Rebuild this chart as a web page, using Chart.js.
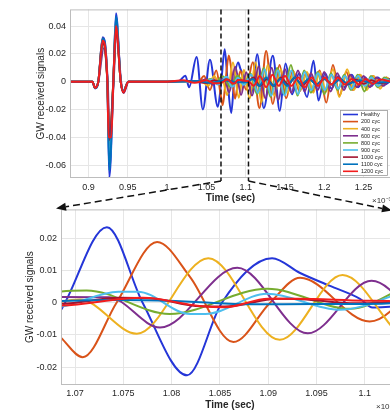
<!DOCTYPE html>
<html><head><meta charset="utf-8">
<script src="https://cdn.jsdelivr.net/npm/chart.js@4.4.1/dist/chart.umd.min.js"></script>
<style>
html,body{margin:0;padding:0;width:390px;height:411px;overflow:hidden;background:#fff;}
#wrap{position:relative;width:390px;height:411px;overflow:hidden;}
#top{position:absolute;left:0;top:0;width:400px;height:210px;}
#bot{position:absolute;left:0;top:200px;width:400px;height:213px;}
#ov{position:absolute;left:0;top:0;width:400px;height:411px;pointer-events:none;}
.exp{position:absolute;font:8px 'Liberation Sans',Arial,sans-serif;color:#333;white-space:nowrap;}
</style></head><body>
<div id="wrap">
<canvas id="top" width="400" height="210"></canvas>
<canvas id="bot" width="400" height="213"></canvas>
<div class="exp" style="left:372px;top:194px">×10⁻³</div>
<div class="exp" style="left:376px;top:400px">×10⁻³</div>
<canvas id="ov" width="400" height="411"></canvas>
</div>
<script>
// ---------- DATA ----------
const seriesNames = ['Healthy','200 cyc','400 cyc','600 cyc','800 cyc','900 cyc','1000 cyc','1100 cyc','1200 cyc'];
const seriesColors = ['#2536d8','#D95319','#EDB120','#7E2F8E','#77AC30','#4DBEEE','#A2142F','#0072BD','#f21d1d'];

const healthy = [[0.8765,0],[0.905,0],[0.9083,-0.0047],[0.9125,0],[0.918,0.032],[0.924,0],[0.9265,-0.0688],[0.9316,0],[0.935,0.0493],[0.941,0],[0.9443,-0.0066],[0.9507,0],[1.0,0],[1.015,0.0005],[1.0233,0.0043],[1.028,-0.004],[1.0375,0.0178],[1.0455,-0.020],[1.0545,0.0157],[1.0645,-0.018],[1.0686,-0.002],[1.0733,0.0234],[1.077,0],[1.0816,-0.0225],[1.0852,0],[1.0904,0.0138],[1.0933,0.0092],[1.0964,0.0052],[1.0995,0.0012],[1.1008,-0.0015],[1.1035,-0.0012],[1.1075,-0.008],[1.1146,0.0198],[1.123,-0.019],[1.1345,0.0186],[1.1434,-0.021],[1.1506,0.013],[1.159,-0.009],[1.168,0.006],[1.178,-0.011],[1.1863,0.015],[1.1926,-0.0136],[1.201,0.006],[1.209,-0.005],[1.218,0.004],[1.226,-0.004],[1.235,0.005],[1.243,-0.004],[1.252,0.003],[1.26,-0.003],[1.268,0.003],[1.277,-0.002],[1.285,0.001]];
const cyc200 = [[0.8765,0],[0.905,0],[0.9083,-0.0045],[0.9125,0],[0.918,0.031],[0.924,0],[0.9265,-0.047],[0.9316,0],[0.935,0.043],[0.941,0],[0.9443,-0.007],[0.9507,0],[1.0,0],[1.04,0],[1.047,0.004],[1.0545,-0.006],[1.0625,0.008],[1.0686,-0.011],[1.0708,-0.0169],[1.0743,0],[1.0785,0.0188],[1.0819,0.008],[1.0864,-0.0122],[1.0902,0],[1.0933,0.0077],[1.1005,-0.0058],[1.109,0.014],[1.1175,-0.019],[1.126,0.022],[1.1345,-0.016],[1.143,0.012],[1.1515,-0.012],[1.16,0.008],[1.1685,-0.007],[1.177,0.006],[1.1855,-0.007],[1.194,0.008],[1.2025,-0.015],[1.211,0.012],[1.2195,-0.010],[1.228,0.007],[1.2365,-0.006],[1.245,0.005],[1.2535,-0.004],[1.262,0.004],[1.2705,-0.003],[1.279,0.003],[1.285,0]];
const cyc400 = [[0.8765,0],[0.905,0],[0.9083,-0.0045],[0.9125,0],[0.918,0.030],[0.924,0],[0.9265,-0.053],[0.9316,0],[0.935,0.044],[0.941,0],[0.9443,-0.007],[0.9507,0],[1.0,0],[1.045,0],[1.052,-0.003],[1.06,0.004],[1.0655,-0.001],[1.0705,0.001],[1.0764,-0.0096],[1.0838,0.0138],[1.0912,-0.0115],[1.0977,0.0086],[1.105,-0.012],[1.1125,0.014],[1.12,-0.015],[1.128,0.012],[1.1365,-0.010],[1.1445,0.009],[1.153,-0.008],[1.161,0.007],[1.1695,-0.006],[1.178,0.007],[1.186,-0.008],[1.194,0.007],[1.2025,-0.007],[1.211,0.009],[1.219,-0.011],[1.229,0.009],[1.2375,-0.006],[1.246,0.005],[1.254,-0.006],[1.2625,0.004],[1.271,-0.005],[1.279,0.003],[1.285,0]];
const cyc600 = [[0.8765,0],[0.905,0],[0.9083,-0.004],[0.9125,0],[0.9195,0.024],[0.9245,0],[0.927,-0.044],[0.932,0],[0.9355,0.038],[0.9415,0],[0.9448,-0.008],[0.951,0],[1.0,0],[1.04,0],[1.05,0.002],[1.058,-0.002],[1.0686,0.0018],[1.0735,0.0017],[1.0788,-0.0077],[1.0868,0.0108],[1.0941,-0.0095],[1.1007,0.0068],[1.108,-0.010],[1.1165,0.011],[1.125,-0.012],[1.133,0.010],[1.1415,-0.013],[1.15,0.009],[1.158,-0.008],[1.1665,0.008],[1.175,-0.007],[1.183,0.006],[1.1915,-0.006],[1.2,0.007],[1.208,-0.007],[1.2165,0.006],[1.225,-0.006],[1.233,0.005],[1.2415,-0.004],[1.25,0.004],[1.258,-0.004],[1.2665,0.003],[1.275,-0.003],[1.283,0.002],[1.285,0.001]];
const cyc800 = [[0.8765,0],[0.905,0],[0.9083,-0.0045],[0.9125,0],[0.918,0.028],[0.924,0],[0.9265,-0.046],[0.9316,0],[0.935,0.040],[0.941,0],[0.9443,-0.007],[0.9507,0],[1.0,0],[1.045,0],[1.055,0.002],[1.062,-0.001],[1.0686,0.0035],[1.0712,0.0038],[1.0798,-0.0035],[1.0899,0.0043],[1.0985,-0.0019],[1.106,0.006],[1.1145,-0.009],[1.123,0.010],[1.1315,-0.011],[1.14,0.010],[1.1485,-0.009],[1.1575,0.012],[1.166,-0.010],[1.1745,0.008],[1.183,-0.008],[1.1915,0.007],[1.2,-0.009],[1.2085,0.006],[1.217,-0.006],[1.2255,0.005],[1.234,-0.006],[1.2425,0.005],[1.251,-0.007],[1.2595,0.004],[1.268,-0.004],[1.2765,0.003],[1.285,0]];
const cyc900 = [[0.8765,0],[0.905,0],[0.9083,-0.0045],[0.9125,0],[0.918,0.029],[0.924,0],[0.9265,-0.058],[0.9316,0],[0.935,0.045],[0.941,0],[0.9443,-0.007],[0.9507,0],[1.0,0],[1.045,0],[1.058,0.0015],[1.064,-0.002],[1.0686,-0.0012],[1.0745,0.0034],[1.0765,0.0034],[1.0819,-0.0035],[1.0835,-0.0035],[1.0899,0.0028],[1.0974,-0.0022],[1.107,0.005],[1.1155,-0.008],[1.124,0.009],[1.1325,-0.010],[1.141,0.008],[1.1495,-0.010],[1.158,0.008],[1.1665,-0.009],[1.175,0.007],[1.1835,-0.006],[1.192,0.006],[1.2005,-0.006],[1.209,0.005],[1.2175,-0.005],[1.226,0.004],[1.2345,-0.005],[1.243,0.004],[1.2515,-0.003],[1.26,0.003],[1.2685,-0.003],[1.277,0.002],[1.285,0]];
const cyc1000 = [[0.8765,0],[0.905,0],[0.9083,-0.0045],[0.9125,0],[0.918,0.028],[0.924,0],[0.9265,-0.042],[0.9316,0],[0.935,0.039],[0.941,0],[0.9443,-0.008],[0.9507,0],[1.0,0],[1.03,0.0005],[1.05,-0.001],[1.06,0.001],[1.0686,-0.0003],[1.0745,0.0015],[1.078,0.0013],[1.0825,-0.001],[1.0855,-0.0012],[1.091,0.0012],[1.0935,0.0011],[1.099,-0.0002],[1.1035,0.0003],[1.11,0.003],[1.118,-0.003],[1.127,0.002],[1.136,-0.003],[1.145,0.003],[1.154,-0.002],[1.163,0.003],[1.172,-0.003],[1.181,0.002],[1.19,-0.002],[1.2,0.002],[1.21,-0.002],[1.22,0.002],[1.23,-0.002],[1.24,0.0015],[1.25,-0.0015],[1.26,0.001],[1.27,-0.001],[1.285,0]];
const cyc1100 = [[0.8765,0],[0.905,0],[0.9083,-0.0047],[0.9125,0],[0.918,0.031],[0.924,0],[0.9265,-0.064],[0.9316,0],[0.935,0.047],[0.941,0],[0.9443,-0.0068],[0.9507,0],[1.0,0],[1.04,0.0005],[1.055,-0.001],[1.0686,0.0005],[1.075,0.0008],[1.082,0.0003],[1.088,-0.0005],[1.095,-0.0004],[1.1,-0.0004],[1.1035,0],[1.109,0.002],[1.117,-0.003],[1.126,0.003],[1.135,-0.003],[1.144,0.002],[1.153,-0.003],[1.162,0.003],[1.171,-0.002],[1.18,0.002],[1.19,-0.002],[1.2,0.002],[1.21,-0.002],[1.22,0.0015],[1.23,-0.0015],[1.245,0.001],[1.26,-0.001],[1.285,0]];
const cyc1200 = [[0.8765,0],[0.905,0],[0.9083,-0.0045],[0.9125,0],[0.918,0.0295],[0.924,0],[0.9255,-0.040],[0.929,-0.040],[0.9316,0],[0.935,0.040],[0.941,0],[0.9443,-0.0075],[0.9507,0],[1.0,0],[1.02,0.001],[1.035,-0.0008],[1.05,0.001],[1.06,-0.0012],[1.0686,-0.0009],[1.077,0.0015],[1.0829,-0.001],[1.0855,-0.0014],[1.09,0.0012],[1.093,0.0012],[1.1,0.0006],[1.1035,0.0004],[1.11,-0.003],[1.118,0.004],[1.126,-0.004],[1.134,0.005],[1.142,-0.003],[1.15,0.004],[1.158,-0.003],[1.167,0.003],[1.175,-0.004],[1.184,0.003],[1.192,-0.003],[1.2,0.003],[1.209,-0.002],[1.217,0.003],[1.226,-0.002],[1.235,0.002],[1.244,-0.002],[1.253,0.002],[1.262,-0.0015],[1.271,0.0015],[1.285,0]];
const seriesData = [healthy,cyc200,cyc400,cyc600,cyc800,cyc900,cyc1000,cyc1100,cyc1200];

// axes
const topXMin = 0.87646, topXMax = 1.28485;
const topXTicks = [0.9,0.95,1,1.05,1.1,1.15,1.2,1.25];
const topXLabels = ['0.9','0.95','1','1.05','1.1','1.15','1.2','1.25'];
const topYMin = -0.0693, topYMax = 0.052;
const topYTicks = [-0.06,-0.04,-0.02,0,0.02,0.04];
const topYLabels = ['-0.06','-0.04','-0.02','0','0.02','0.04'];

const botXMin = 1.06855, botXMax = 1.10354;   // zoom window (also dashed markers)
const botXTicks = [1.07,1.075,1.08,1.085,1.09,1.095,1.1];
const botXLabels = ['1.07','1.075','1.08','1.085','1.09','1.095','1.1'];
const botYMin = -0.0255, botYMax = 0.0289;
const botYTicks = [-0.02,-0.01,0,0.01,0.02];
const botYLabels = ['-0.02','-0.01','0','0.01','0.02'];

// ---------- CHARTS ----------
const FAM = "'Liberation Sans', Arial, sans-serif";
const GRID = '#e6e6e6', TXT = '#262626';

function makeDatasets(bw){
  return seriesData.map((arr,i)=>({
    label: seriesNames[i],
    data: arr.map(p=>({x:p[0], y:p[1]})),
    borderColor: seriesColors[i], backgroundColor: seriesColors[i],
    borderWidth: bw, pointRadius: 0, fill: false,
    cubicInterpolationMode: 'monotone',
    order: seriesData.length - 1 - i
  }));
}
function axis(min,max,ticks,labels,fit,isX,title,titlePad,tickPad,titleBold){
  return {
    type:'linear', min, max,
    afterBuildTicks: s => { s.ticks = ticks.map(v=>({value:v})); },
    afterFit: s => { if(isX) s.height = fit; else s.width = fit; },
    grid:{color:GRID, drawTicks:false, lineWidth:1},
    border:{display:false},
    ticks:{padding:tickPad, color:TXT, autoSkip:false, maxRotation:0, font:{size:9, family:FAM},
           callback:(v,i)=>labels[i]},
    title:{display:true, text:title, color:TXT, padding:titlePad,
           font:{size:10, family:FAM, weight: titleBold ? 'bold' : 'normal'}}
  };
}
const frame = {id:'frame', afterDatasetsDraw(chart){
  const {ctx, chartArea:a} = chart;
  ctx.save(); ctx.strokeStyle='#bdbdbd'; ctx.lineWidth=1;
  ctx.strokeRect(a.left+0.5, a.top+0.5, a.right-a.left-1, a.bottom-a.top-1);
  ctx.restore();
}};
const legendBox = {id:'legendBox', afterDraw(chart){
  const {ctx, chartArea:a} = chart;
  const x = a.right - 51, y = a.bottom - 68, w = 48, h = 66;
  ctx.save();
  ctx.fillStyle='#fff'; ctx.fillRect(x,y,w,h);
  ctx.strokeStyle='#9a9a9a'; ctx.lineWidth=0.8; ctx.strokeRect(x+0.5,y+0.5,w-1,h-1);
  ctx.font = "5.5px " + FAM; ctx.textBaseline='middle'; ctx.textAlign='left';
  chart.data.datasets.forEach((ds,i)=>{
    const yy = y + 4.5 + i*7.1;
    ctx.strokeStyle = ds.borderColor; ctx.lineWidth = 1.6;
    ctx.beginPath(); ctx.moveTo(x+3,yy); ctx.lineTo(x+18,yy); ctx.stroke();
    ctx.fillStyle='#222'; ctx.fillText(ds.label, x+21, yy+0.3);
  });
  ctx.restore();
}};

const topChart = new Chart(document.getElementById('top'), {
  type:'line',
  data:{datasets: makeDatasets(2)},
  options:{
    responsive:false, animation:false, devicePixelRatio:1,
    layout:{padding:{left:31, top:8, right:9, bottom:4}},
    plugins:{legend:{display:false}, tooltip:{enabled:false}},
    scales:{
      x: axis(topXMin,topXMax,topXTicks,topXLabels,28,true,'Time (sec)',{top:0,bottom:2},4,true),
      y: axis(topYMin,topYMax,topYTicks,topYLabels,39,false,'GW received signals',{top:4,bottom:0},4,false)
    }
  },
  plugins:[frame, legendBox]
});

const botChart = new Chart(document.getElementById('bot'), {
  type:'line',
  data:{datasets: makeDatasets(2)},
  options:{
    responsive:false, animation:false, devicePixelRatio:1,
    layout:{padding:{left:20, top:8, right:1, bottom:1}},
    plugins:{legend:{display:false}, tooltip:{enabled:false}},
    scales:{
      x: axis(botXMin,botXMax,botXTicks,botXLabels,27,true,'Time (sec)',{top:0,bottom:1},3,true),
      y: axis(botYMin,botYMax,botYTicks,botYLabels,41,false,'GW received signals',{top:4,bottom:0},4,false)
    }
  },
  plugins:[frame]
});

// ---------- ZOOM ANNOTATION (dashed markers + arrows) ----------
(function(){
  const ov = document.getElementById('ov'), ctx = ov.getContext('2d');
  const ta = topChart.chartArea, ba = botChart.chartArea, botOff = 200;
  const xs = topChart.scales.x.getPixelForValue(botXMin);
  const xe = topChart.scales.x.getPixelForValue(botXMax);
  ctx.strokeStyle = '#111'; ctx.fillStyle = '#111'; ctx.lineWidth = 1.5;
  ctx.setLineDash([5,3]);
  [xs,xe].forEach(x=>{ ctx.beginPath(); ctx.moveTo(x, ta.top); ctx.lineTo(x, ta.bottom+3); ctx.stroke(); });
  function arrow(x1,y1,x2,y2){
    const ang = Math.atan2(y2-y1, x2-x1), L = 10, W = 4;
    const bx = x2 - L*Math.cos(ang), by = y2 - L*Math.sin(ang);
    ctx.setLineDash([7,4]);
    ctx.beginPath(); ctx.moveTo(x1,y1); ctx.lineTo(bx,by); ctx.stroke();
    ctx.setLineDash([]);
    ctx.beginPath(); ctx.moveTo(x2,y2);
    ctx.lineTo(bx + W*Math.sin(ang), by - W*Math.cos(ang));
    ctx.lineTo(bx - W*Math.sin(ang), by + W*Math.cos(ang));
    ctx.closePath(); ctx.fill();
  }
  arrow(xs, ta.bottom+3, ba.left-5, botOff+ba.top-1);
  arrow(xe, ta.bottom+3, ba.right-7, botOff+ba.top+1);
})();
</script>
</body></html>
